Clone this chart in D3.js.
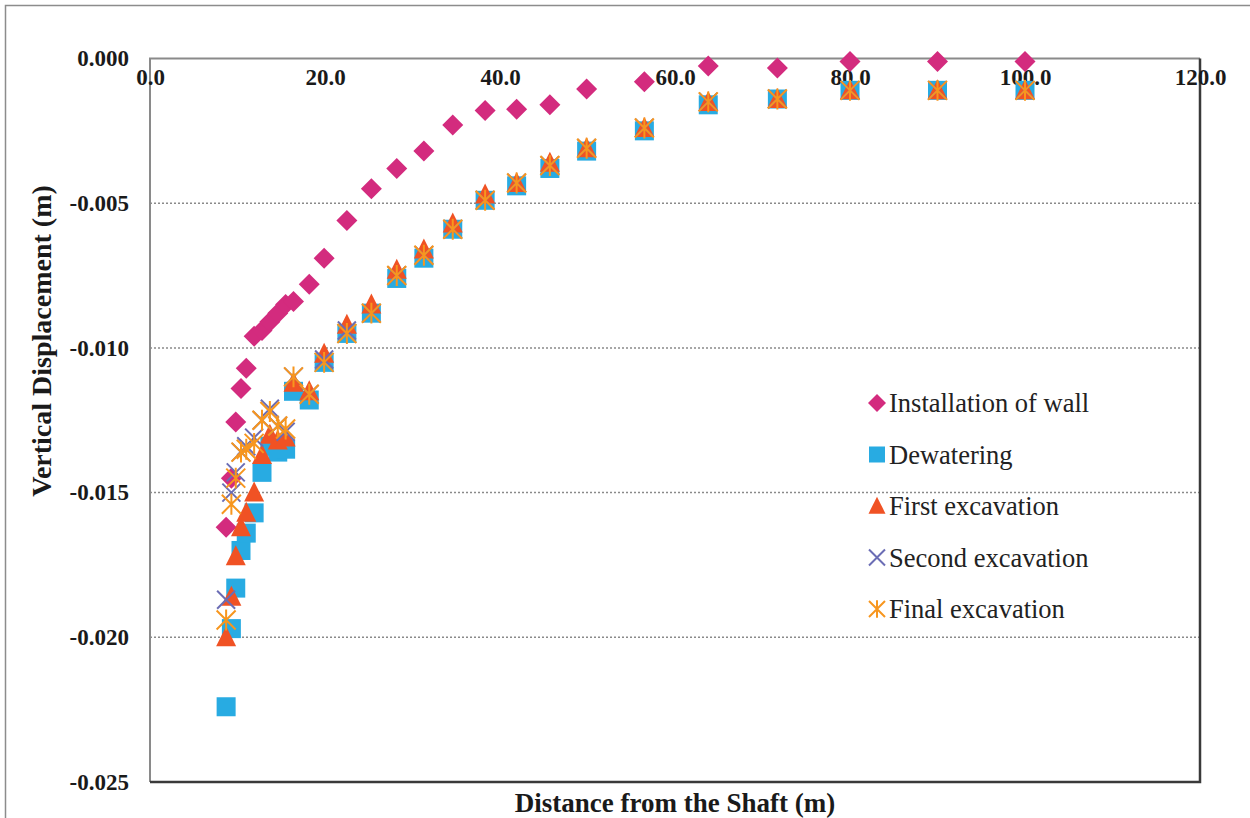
<!DOCTYPE html>
<html>
<head>
<meta charset="utf-8">
<script src="https://cdn.jsdelivr.net/npm/d3@7"></script>
<style>
  body { margin: 0; background: #fff; }
  svg { display: block; }
</style>
</head>
<body>
<div class="canvas"></div>
<script>
// distances from the shaft (m), shared by every stage
const distance = [8.7, 9.3, 9.8, 10.4, 11.0, 11.9, 12.8, 13.7, 14.6, 15.5, 16.4, 18.2, 19.9, 22.5,
  25.3, 28.2, 31.3, 34.6, 38.3, 41.9, 45.7, 49.9, 56.5, 63.8, 71.7, 80.0, 90.0, 100.0];

// vertical displacement (m) per construction stage
const installation = [-0.0162, -0.0145, -0.01256, -0.0114, -0.0107, -0.0096, -0.0094, -0.0091, -0.0088,
  -0.0085, -0.0084, -0.0078, -0.0069, -0.0056, -0.0045, -0.0038, -0.0032, -0.0023, -0.0018, -0.00175,
  -0.0016, -0.00105, -0.0008, -0.00026, -0.00033, -0.0001, -0.0001, -0.0001];
const dewatering = [-0.0224, -0.0197, -0.0183, -0.0170, -0.0164, -0.0157, -0.0143, -0.0134, -0.0136,
  -0.0135, -0.0115, -0.0118, -0.0105, -0.0095, -0.0088, -0.0076, -0.0069, -0.0059, -0.0049, -0.0044,
  -0.0038, -0.0032, -0.0025, -0.0016, -0.0014, -0.0011, -0.0011, -0.0011];
const firstExc = [-0.0200, -0.0186, -0.0172, -0.0162, -0.0157, -0.0150, -0.0137, -0.0130, -0.0132,
  -0.0131, -0.0112, -0.0115, -0.0102, -0.0092, -0.0085, -0.0073, -0.0066, -0.0057, -0.0047, -0.0043,
  -0.0036, -0.0031, -0.0024, -0.0015, -0.0014, -0.0011, -0.0011, -0.0011];
const secondExc = [-0.0187, -0.0150, -0.0143, -0.0136, -0.0134, -0.0131, -0.0125, -0.0121, -0.0127,
  -0.0129, -0.0110, -0.0116, -0.0104, -0.0094, -0.0088, -0.0075, -0.0068, -0.0059, -0.0049, -0.0043,
  -0.0037, -0.0031, -0.0024, -0.0015, -0.0014, -0.0011, -0.0011, -0.0011];
const finalExc = [-0.0194, -0.0154, -0.0145, -0.0136, -0.0135, -0.0133, -0.0125, -0.0122, -0.0127,
  -0.0128, -0.0110, -0.0116, -0.0105, -0.0095, -0.0088, -0.0075, -0.0068, -0.0059, -0.0049, -0.0043,
  -0.0037, -0.0031, -0.0024, -0.0015, -0.0014, -0.0011, -0.0011, -0.0011];

const seriesNames = ['Installation of wall', 'Dewatering', 'First excavation', 'Second excavation', 'Final excavation'];
const xTicks = [0, 20, 40, 60, 80, 100, 120];
const yTicks = [0, -0.005, -0.010, -0.015, -0.020, -0.025];

const series = [
  {name: seriesNames[0], values: installation, shape: 'diamond', color: '#d32b7e'},
  {name: seriesNames[1], values: dewatering, shape: 'square', color: '#28abe2'},
  {name: seriesNames[2], values: firstExc, shape: 'triangle', color: '#f05224'},
  {name: seriesNames[3], values: secondExc, shape: 'cross', color: '#6b6db5'},
  {name: seriesNames[4], values: finalExc, shape: 'star', color: '#f7961e'}
];

const width = 1250, height = 818;
const margin = {top: 58.5, right: 50, bottom: 36, left: 150};
const serif = '"Liberation Serif", "Times New Roman", serif';

const svg = d3.select('.canvas')
  .append('svg')
    .attr('width', width)
    .attr('height', height);

// outer chart border (runs off the right and bottom edges)
svg.append('path')
  .attr('d', `M5.5,${height} V5.5 H${width}`)
  .attr('fill', 'none')
  .attr('stroke', '#8c8c8c')
  .attr('stroke-width', 1.5);

const x = d3.scaleLinear()
  .domain([0, 120])
  .range([margin.left, width - margin.right]);

const y = d3.scaleLinear()
  .domain([-0.025, 0])
  .range([height - margin.bottom, margin.top]);

// dotted gridlines
svg.append('g')
  .selectAll('line')
  .data(yTicks.filter(d => d !== 0 && d !== -0.025))
  .enter()
  .append('line')
    .attr('x1', x(0))
    .attr('x2', x(120))
    .attr('y1', d => y(d))
    .attr('y2', d => y(d))
    .attr('stroke', '#8a8a8a')
    .attr('stroke-width', 1.5)
    .attr('stroke-dasharray', '2,2');

// plot frame: gray top/left, dark right/bottom
svg.append('path')
  .attr('d', `M${x(0)},${y(-0.025)} V${y(0)} H${x(120)}`)
  .attr('fill', 'none')
  .attr('stroke', '#8a8a8a')
  .attr('stroke-width', 2);
svg.append('path')
  .attr('d', `M${x(120)},${y(0)} V${y(-0.025)} H${x(0)}`)
  .attr('fill', 'none')
  .attr('stroke', '#3a3a3a')
  .attr('stroke-width', 2.5);

// axes
const fmtY = d => d3.format('.3f')(d).replace('\u2212', '-');
const xAxis = d3.axisBottom(x).tickValues(xTicks).tickFormat(d3.format('.1f')).tickSize(0).tickPadding(20);
const yAxis = d3.axisLeft(y).tickValues(yTicks).tickFormat(fmtY).tickSize(0).tickPadding(21);

const xAxisGroup = svg.append('g')
  .attr('transform', `translate(0, ${y(0)})`)
  .call(xAxis);
const yAxisGroup = svg.append('g')
  .attr('transform', `translate(${x(0)}, 0)`)
  .call(yAxis);

[xAxisGroup, yAxisGroup].forEach(g => {
  g.select('.domain').remove();
  g.selectAll('text')
    .attr('font-family', serif)
    .attr('font-weight', 'bold')
    .attr('font-size', 23)
    .attr('fill', '#1a1a1a');
});
xAxisGroup.selectAll('text').attr('dy', '0.3em');

// axis titles
svg.append('text')
  .attr('x', 675)
  .attr('y', 812)
  .attr('text-anchor', 'middle')
  .attr('font-family', serif)
  .attr('font-weight', 'bold')
  .attr('font-size', 27)
  .attr('fill', '#1a1a1a')
  .text('Distance from the Shaft (m)');

svg.append('text')
  .attr('transform', 'translate(51, 341) rotate(-90)')
  .attr('text-anchor', 'middle')
  .attr('font-family', serif)
  .attr('font-weight', 'bold')
  .attr('font-size', 28)
  .attr('fill', '#1a1a1a')
  .text('Vertical Displacement (m)');

// marker drawing
function marker(g, shape, color, s) {
  const h = s / 2;
  if (shape === 'diamond') {
    g.append('path').attr('d', `M0,${-h}L${h},0L0,${h}L${-h},0Z`).attr('fill', color);
  } else if (shape === 'square') {
    g.append('rect').attr('x', -h).attr('y', -h).attr('width', s).attr('height', s).attr('fill', color);
  } else if (shape === 'triangle') {
    g.append('path').attr('d', `M0,${-h * 1.1}L${h},${h * 0.9}L${-h},${h * 0.9}Z`).attr('fill', color);
  } else if (shape === 'cross') {
    g.append('path').attr('d', `M${-h},${-h}L${h},${h}M${-h},${h}L${h},${-h}`)
      .attr('stroke', color).attr('stroke-width', 2).attr('fill', 'none');
  } else {
    g.append('path').attr('d', `M${-h},${-h}L${h},${h}M${-h},${h}L${h},${-h}M0,${-h * 1.1}L0,${h * 1.1}`)
      .attr('stroke', color).attr('stroke-width', 2).attr('fill', 'none');
  }
}

const markerSize = {diamond: 21, square: 19, triangle: 20, cross: 18, star: 19};

series.forEach(s => {
  const grp = svg.append('g');
  s.values.forEach((v, i) => {
    const m = grp.append('g').attr('transform', `translate(${x(distance[i])}, ${y(v)})`);
    marker(m, s.shape, s.color, markerSize[s.shape]);
  });
});

// legend
const legendSize = {diamond: 18, square: 16, triangle: 17, cross: 16, star: 16};
const legend = svg.append('g').attr('transform', 'translate(877, 403)');
series.forEach((s, i) => {
  const row = legend.append('g').attr('transform', `translate(0, ${i * 51.5})`);
  marker(row, s.shape, s.color, legendSize[s.shape]);
  row.append('text')
    .attr('x', 12)
    .attr('dy', '0.35em')
    .attr('font-family', serif)
    .attr('font-size', 26.5)
    .attr('fill', '#222')
    .text(s.name);
});
</script>
</body>
</html>
